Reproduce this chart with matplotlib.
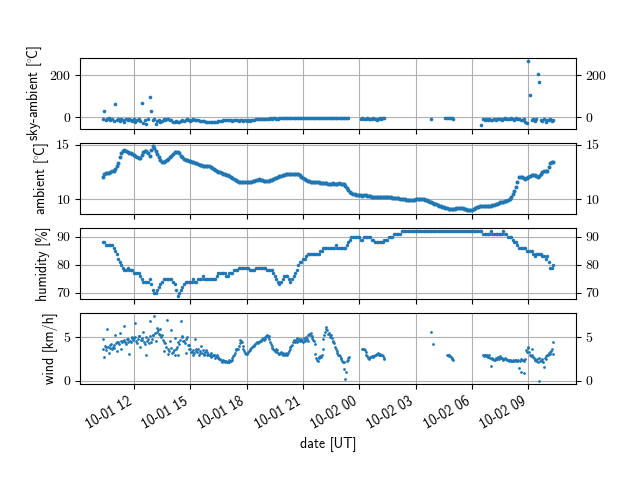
import numpy as np
import pandas as pd
import matplotlib
matplotlib.use("Agg")
import matplotlib.pyplot as plt
import matplotlib.dates as mdates

nan = np.nan

plt.rcParams['font.family'] = ['cmss10', 'DejaVu Sans']
plt.rcParams['mathtext.fontset'] = 'cm'
plt.rcParams['axes.unicode_minus'] = False

START = '2023-10-01 10:20'

# ambient temperature, every 10 minutes
ambient = [
    12.03, 12.38, 12.44, 12.56, 12.75, 13.31, 14.25, 14.5, 14.31, 14.25,
    14.06, 13.84, 13.75, 14.31, 14.38, 14.0, 14.88, 14.38, 13.84, 13.44,
    13.5, 13.69, 14.0, 14.31, 14.31, 14.0, 13.69, 13.59, 13.47, 13.38,
    13.28, 13.16, 13.06, 13.06, 13.06, 12.88, 12.69, 12.53, 12.38, 12.28,
    12.19, 12.03, 11.88, 11.66, 11.56, 11.56, 11.56, 11.59, 11.63, 11.72,
    11.81, 11.75, 11.63, 11.66, 11.78, 11.91, 12.03, 12.16, 12.25, 12.28,
    12.28, 12.31, 12.31, 12.19, 11.94, 11.75, 11.63, 11.56, 11.59, 11.56,
    11.5, 11.47, 11.44, 11.44, 11.44, 11.44, 11.44, 11.41, 11.03, 10.63,
    10.47, 10.41, 10.41, 10.34, 10.38, 10.31, 10.22, 10.19, 10.22, 10.25,
    10.22, 10.19, 10.16, 10.13, 10.09, 10.06, 10.0, 9.97, 9.91, 9.94,
    10.0, 10.0, 10.0, 9.97, 9.84, 9.72, 9.59, 9.47, 9.38, 9.28,
    9.16, 9.09, 9.09, 9.16, 9.22, 9.19, 9.09, 8.97, 9.03, 9.19,
    9.31, 9.41, 9.41, 9.34, 9.38, 9.5, 9.59, 9.72, 9.78, 9.84,
    10.0, 10.5, 11.13, 12.06, 12.03, 11.88, 12.0, 12.25, 12.22, 12.06,
    12.28, 12.59, 12.59, 13.31, 13.38,
]

# ambient temperature, readings in between (offset by 5 minutes)
ambient_mid = [
    12.35, 12.4, 12.5, 12.62, 13.0, 13.85, 14.42, 14.4, 14.28, 14.15,
    13.95, 13.78, 14.05, 14.38, 14.2, 14.5, 14.7, 14.1, 13.62, 13.45,
    13.6, 13.85, 14.18, 14.36, 14.2, 13.85, 13.62, 13.52, 13.42, 13.33,
    13.22, 13.1, 13.06, 13.08, 12.97, 12.78, 12.6, 12.45, 12.33, 12.24,
    12.1, 11.95, 11.76, 11.6, 11.55, 11.57, 11.58, 11.6, 11.68, 11.77,
    11.78, 11.68, 11.63, 11.72, 11.85, 11.97, 12.1, 12.2, 12.27, 12.29,
    12.3, 12.32, 12.27, 12.05, 11.85, 11.68, 11.6, 11.58, 11.57, 11.53,
    11.48, 11.45, 11.44, 11.45, 11.43, 11.45, 11.43, 11.25, 10.82, 10.55,
    10.44, 10.42, 10.37, 10.36, 10.34, 10.27, 10.2, 10.21, 10.24, 10.23,
    10.2, 10.18, 10.14, 10.11, 10.08, 10.03, 9.98, 9.94, 9.92, 9.97,
    10.0, 10.02, 9.98, 9.9, 9.78, 9.65, 9.53, 9.42, 9.33, 9.22,
    9.12, 9.08, 9.12, 9.2, 9.2, 9.14, 9.02, 9.0, 9.1, 9.25,
    9.36, 9.42, 9.37, 9.36, 9.44, 9.55, 9.65, 9.75, 9.8, 9.92,
    10.25, 10.8, 11.6, 12.05, 11.95, 11.93, 12.12, 12.24, 12.14, 12.17,
    12.45, 12.55, 12.95, 13.4,
]

# relative humidity, every 10 minutes
humidity = [
    88, 87, 87, 87, 85, 82, 80, 78, 79, 78,
    77, 77, 76, 74, 74, 75, 71, 70, 72, 74,
    75, 75, 75, 73, 69, 71, 73, 74, 74, 75,
    74, 75, 76, 75, 75, 75, 75, 77, 77, 77,
    76, 77, 78, 78, 79, 79, 79, 78, 78, 79,
    79, 79, 79, 78, 78, 76, 74, 74, 76, 76,
    74, 76, 78, 81, 82, 83, 84, 84, 84, 84,
    85, 86, 86, 86, 86, 86, 86, 86, 87, 89,
    90, 90, 90, 89, 90, 90, 89, 88, 88, 88,
    89, 89, 90, 91, 91, 91, 92, 92, 92, 92,
    92, 92, 92, 92, 92, 92, 92, 92, 92, 92,
    92, 92, 92, 92, 92, 92, 92, 92, 92, 92,
    92, 92, 91, 91, 92, 91, 91, 91, 92, 91,
    90, 89, 88, 86, 86, 86, 85, 85, 83, 84,
    84, 83, 83, 79, 80,
]

# relative humidity, readings in between (offset by 5 minutes)
humidity_mid = [
    88, 87, 87, 86, 84, 81, 79, 78, 78, 78,
    77, 77, 75, 74, 74, 73, 70, 71, 73, 75,
    75, 75, 74, 71, 70, 72, 74, 74, 74, 74,
    75, 75, 75, 75, 75, 75, 76, 77, 77, 76,
    77, 77, 78, 79, 79, 79, 79, 78, 78, 79,
    79, 79, 78, 78, 77, 75, 73, 75, 76, 75,
    75, 77, 80, 81, 82, 84, 84, 84, 84, 85,
    86, 86, 86, 86, 87, 86, 86, 86, 88, 90,
    90, 90, 89, 90, 90, 90, 89, 88, 88, 88,
    89, 90, 90, 91, 91, 92, 92, 92, 92, 92,
    92, 92, 92, 92, 92, 92, 92, 92, 92, 92,
    92, 92, 92, 92, 92, 92, 92, 92, 92, 92,
    92, 91, 91, 91, 91, 91, 91, 91, 91, 90,
    90, 88, 87, 86, 86, 85, 85, 84, 84, 84,
    83, 82, 81, 79,
]

# sky minus ambient, every 5 minutes
sky = [
    -8, 30, -14, -10, -5, -12, -9, -16, 62, -11,
    -7, -18, -10, -14, -20, -9, -13, -6, -12, -17,
    -10, -22, -14, -8, -19, 67, -25, -12, -30, -10,
    95, 32, -15, -9, -33, -18, -12, -22, -16, -10,
    -14, -8, -6, -11, -15, -20, -22, -18, -24, -20,
    -16, -13, -17, -14, -10, -12, -16, -13, -9, -11,
    -14, -15, -17, -16, -18, -19, -20, -21, -22, -21,
    -22, -22, -21, -20, -18, -16, -19, -15, -12, -14,
    -13, -11, -15, -17, -14, -12, -15, -16, -13, -14,
    -16, -15, -17, -14, -16, -15, -13, -12, -10, -9,
    -8, -8, -7, -8, -6, -7, -6, -5, -6,
    -5, -4, -6, -6, -5, -4, -4, -3, -4, -5,
    -4, -4, -3, -3, -4, -3, -3, -4, -3, -3,
    -3, -2, -3, -3, -3, -2, -3, -2, -2, -3,
    -2, -2, -2, -3, -2, -2, -2, -2, -3, -2,
    -2, -2, -2, -2, -2, -2, -2, -2, -2,
    nan, nan, nan, nan, nan, nan, nan,
    -6, -5, -6, -6, -5, -6, -7, -6, -5, -6, -11, -6, -5, -6, -5, -4,
    nan, nan, nan, nan, nan, nan, nan, nan, nan, nan,
    nan, nan, nan, nan, nan, nan, nan, nan, nan, nan,
    nan, nan, nan, nan, nan, nan, nan, nan, nan,
    -7,
    nan, nan, nan, nan, nan, nan, nan, nan,
    -3, -4, -4, -5, -5, -6,
    nan, nan, nan, nan, nan, nan, nan, nan, nan, nan,
    nan, nan, nan, nan, nan, nan, nan,
    -38,
    -10, -14, -8, -12, -9, -15, -11, -7, -13, -10,
    -9, -6, -12, -8, -5, -7, -10, -6, -4, -8,
    -11, -5, -9, -7, -12, -14, -10, -20, -25, 268,
    105, -15, -10, -18, -8, 205, 167, -12, -16, -9,
    -20, -11, -14, -8, -18, -12,
]

# wind speed, every 5 minutes
wind = [
    4.8, 2.7, 3.9, 5.9, 3.2, 4.1, 3.6,
    3.8, 5.2, 3.4, 4.4, 5.5, 3.7, 4.6,
    6.3, 4.2, 4.8, 3.1, 4.5, 5.0,
    4.9, 6.6, 4.3, 5.1, 3.9, 4.7,
    5.6, 4.2, 3.0, 4.8, 6.9, 4.4, 5.2,
    7.4, 4.6, 6.0, 5.4, 5.9, 5.2,
    3.4, 4.3, 7.0, 3.1, 4.6, 5.8, 3.3,
    4.9, 3.6, 3.0, 4.2,
    6.8, 5.1, 4.6, 3.2, 5.0, 4.1, 3.6,
    3.3, 2.9, 4.8, 3.4, 3.7, 3.2,
    4.0, 3.5, 3.1, 3.5, 3.3, 2.9,
    3.2, 2.8, 3.0, 2.6, 3.0, 2.7,
    2.5, 2.3, 2.4, 2.2, 2.3, 2.2, 2.4, 2.3, 2.6,
    3.0, 3.5, 3.6, 4.0,
    4.7, 4.5, 3.6, 3.2, 3.1, 3.3, 3.5,
    3.8, 4.0, 4.1, 4.3, 4.4, 4.5, 4.6,
    4.8, 4.7, 5.0, 5.2, 5.1,
    4.4, 4.0, 3.6, 3.4, 3.7, 3.2,
    3.1, 3.3, 3.0, 3.1, 3.2, 3.0, 3.4,
    3.9, 4.1, 4.7, 4.5, 4.9, 4.6,
    4.6, 4.8, 4.5, 4.7, 5.0, 4.6, 5.4,
    5.5, 4.9, 4.6,
    3.1, 2.4, 2.6, 2.8,
    3.0, 4.8, 5.6, 6.2, 5.4, 5.0,
    5.2, 4.6, 4.3, 3.6, 3.2, 2.9, 2.6, 2.3, 1.4, 0.2, 2.3, 2.6,
    nan, nan, nan, nan, nan, nan, nan, nan,
    3.7, 3.6, 3.3, 2.8, 2.5, 2.7, 2.8, 2.7, 2.9, 3.1, 3.2, 3.1, 3.0, 2.8, 2.5,
    nan, nan, nan, nan, nan, nan, nan, nan, nan, nan,
    nan, nan, nan, nan, nan, nan, nan, nan, nan, nan,
    nan, nan, nan, nan, nan, nan, nan, nan, nan,
    5.6, 4.2,
    nan, nan, nan, nan, nan, nan, nan, nan,
    3.0, 2.9, 2.8, 2.6, 2.4,
    nan, nan, nan, nan, nan, nan, nan, nan, nan, nan,
    nan, nan, nan, nan, nan, nan, nan, nan,
    2.9, 3.0, 2.8, 2.7, 2.9, 1.7, 2.6, 2.4, 2.5, 2.5,
    2.6, 2.8, 2.6, 2.5, 2.6, 2.5, 2.4, 2.4, 2.3, 2.4,
    2.3, 2.4, 2.3, 1.5, 1.0, 2.4, 0.9, 2.5, 3.3, 3.9,
    3.0, 3.7, 2.7, 2.4, 2.3, 2.2, 0.0, 2.4, 2.3, 1.6,
    2.5, 3.0, 3.2, 3.1, 3.6, 4.4,
]

# wind speed, readings in between (offset by 2.5 minutes)
wind_mid = [
    3.7, 4.0, 3.5, 3.9, 3.8, 4.2, 3.9,
    4.1, 4.3, 4.5, 4.2, 4.6, 4.4, 4.7,
    4.5, 4.8, 4.4, 4.6, 4.9, 4.7,
    5.0, 4.6, 4.8, 5.1, 4.7, 4.9,
    4.5, 5.0, 4.6, 4.3, 5.1, 4.8, 5.3,
    5.5, 5.6, 5.8, 5.3, 5.0, 4.7,
    4.4, 3.9, 3.6, 3.4, 3.8, 3.2, 3.5,
    3.0, 3.9, 4.4, 4.7,
    5.0, 4.6, 4.3, 4.8, 4.1, 3.6, 3.3,
    3.5, 3.2, 3.6, 3.3, 3.0, 3.4,
    3.2, 3.0, 3.3, 2.9, 3.1, 3.0,
    2.7, 3.0, 2.9, 2.8, 2.6, 2.5,
    2.4, 2.2, 2.3, 2.3, 2.2, 2.1, 2.3, 2.4, 2.8,
    3.2, 3.6, 3.7, 4.3,
    4.6, 4.0, 3.4, 3.1, 3.2, 3.4, 3.7,
    3.9, 4.0, 4.2, 4.4, 4.3, 4.6, 4.7,
    4.9, 4.8, 5.1, 5.0, 4.8,
    4.2, 3.8, 3.5, 3.3, 3.5, 3.1,
    3.2, 3.1, 3.2, 3.0, 3.1, 3.2, 3.6,
    4.0, 4.4, 4.6, 4.7, 4.5, 4.8,
    4.7, 4.6, 4.9, 4.6, 4.8, 5.2, 5.3,
    5.1, 4.7, 4.2,
    2.6, 2.3, 2.7, 2.7,
    3.6, 5.2, 5.9, 5.8, 5.5, 5.3,
    4.9, 4.5, 3.9, 3.4, 3.0, 2.8, 2.5, 2.2, 2.1, 1.0, 2.4, 2.7,
    nan, nan, nan, nan, nan, nan, nan, nan,
    3.6, 3.5, 3.0, 2.6, 2.6, 2.7, 2.8, 2.8, 3.0, 3.1, 3.0, 3.0, 2.9, 2.6, nan,
    nan, nan, nan, nan, nan, nan, nan, nan, nan, nan,
    nan, nan, nan, nan, nan, nan, nan, nan, nan, nan,
    nan, nan, nan, nan, nan, nan, nan, nan, nan,
    nan, nan,
    nan, nan, nan, nan, nan, nan, nan, nan,
    3.0, 2.8, 2.7, 2.5, nan,
    nan, nan, nan, nan, nan, nan, nan, nan, nan, nan,
    nan, nan, nan, nan, nan, nan, nan, nan,
    2.8, 2.9, 3.0, 2.7, 2.6, 2.5, 2.5, 2.4, 2.6, 2.7,
    2.5, 2.6, 2.4, 2.5, 2.5, 2.4, 2.3, 2.4, 2.3, 2.3,
    2.4, 2.3, 2.4, 2.3, 2.5, 2.4, 2.3, 3.5, 3.8, 3.3,
    2.8, 3.0, 2.6, 2.4, 2.5, 2.6, 2.3, 2.5, 2.2, 2.6,
    2.8, 3.0, 3.3, 3.4, 3.1, nan,
]

t10 = pd.date_range(START, periods=len(ambient), freq='10min')
t10_mid = t10[:-1] + pd.Timedelta('5min')
t5_sky = pd.date_range(START, periods=len(sky), freq='5min')
t5_wind = pd.date_range(START, periods=len(wind), freq='5min')
t5_wind_mid = t5_wind[:len(wind_mid)] + pd.Timedelta('150s')

series = [
    ([(t5_sky, sky)], r'sky-ambient [$^{\circ}\!$C]', [0, 200], 2.6),
    ([(t10, ambient), (t10_mid, ambient_mid)], r'ambient [$^{\circ}\!$C]', [10, 15], 2.9),
    ([(t10, humidity), (t10_mid, humidity_mid)], 'humidity [%]', [70, 80, 90], 2.5),
    ([(t5_wind, wind), (t5_wind_mid, wind_mid)], 'wind [km/h]', [0, 5], 2.0),
]

fig, axes = plt.subplots(4, 1, sharex=True, figsize=(6.4, 4.8), dpi=100)
for ax, (data, lab, ticks, ms) in zip(axes, series):
    for t, v in data:
        ax.plot(t, v, marker='o', ls='none', ms=ms, mew=0, color='C0')
    ax.set_ylabel(lab)
    ax.set_yticks(ticks)
    ax.grid(True)
    ax.tick_params(axis='y', right=True, labelright=True, labelfontfamily='cmr10')

axes[-1].xaxis.set_major_locator(mdates.HourLocator(byhour=range(0, 24, 3)))
axes[-1].xaxis.set_major_formatter(mdates.DateFormatter('%m-%d %H'))
axes[-1].set_xlabel('date [UT]')
fig.autofmt_xdate()
fig.savefig('out.png', dpi=100)
